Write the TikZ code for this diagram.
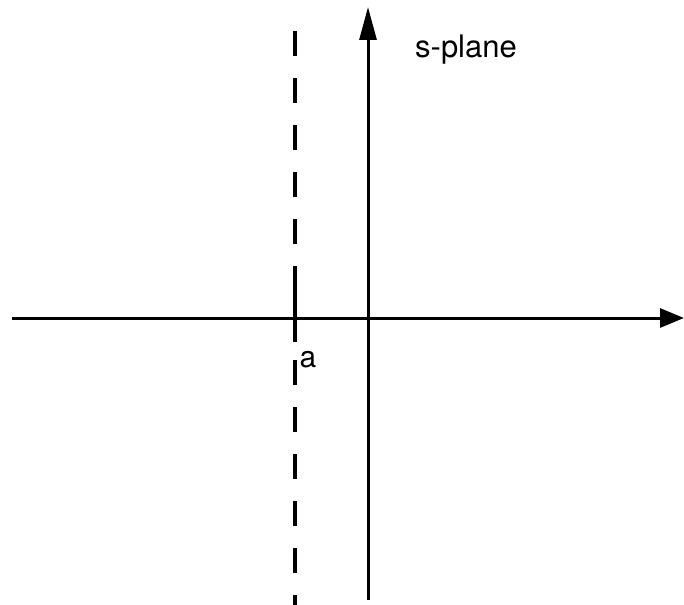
\documentclass[tikz,border=0pt]{standalone}
\usepackage{fontspec}
\setmainfont{TeX Gyre Heros}
\usetikzlibrary{arrows.meta}
\begin{document}
\begin{tikzpicture}[x=1pt,y=-1pt]
\def\axisy{318}
\def\axisx{368}
\def\dashx{295}
\useasboundingbox (0,0) rectangle (684,604);
\coordinate (XLeft) at (12,\axisy);
\coordinate (XRight) at (684,\axisy);
\coordinate (YBottom) at (\axisx,600);
\coordinate (YTop) at (\axisx,7);
\coordinate (DashTop) at (\dashx,31);
\coordinate (DashBottom) at (\dashx,610);
\coordinate (TickTop) at (\dashx,287);
\coordinate (TickBottom) at (\dashx,342);

\draw[line width=3pt,-{Triangle[length=24pt,width=19pt]}] (XLeft) -- (XRight);
\draw[line width=3pt,-{Triangle[length=33pt,width=17pt]}] (YBottom) -- (YTop);
\draw[line width=3.2pt,dash pattern=on 25pt off 22pt] (DashTop) -- (DashBottom);
\draw[line width=3.2pt] (TickTop) -- (TickBottom);

\node[font=\fontsize{31}{37}\selectfont,inner sep=0pt] (Label) at (466,50) {s-plane};
\node[font=\fontsize{30}{36}\selectfont,inner sep=0pt] (ALabel) at (308,360) {a};
\end{tikzpicture}
\end{document}
